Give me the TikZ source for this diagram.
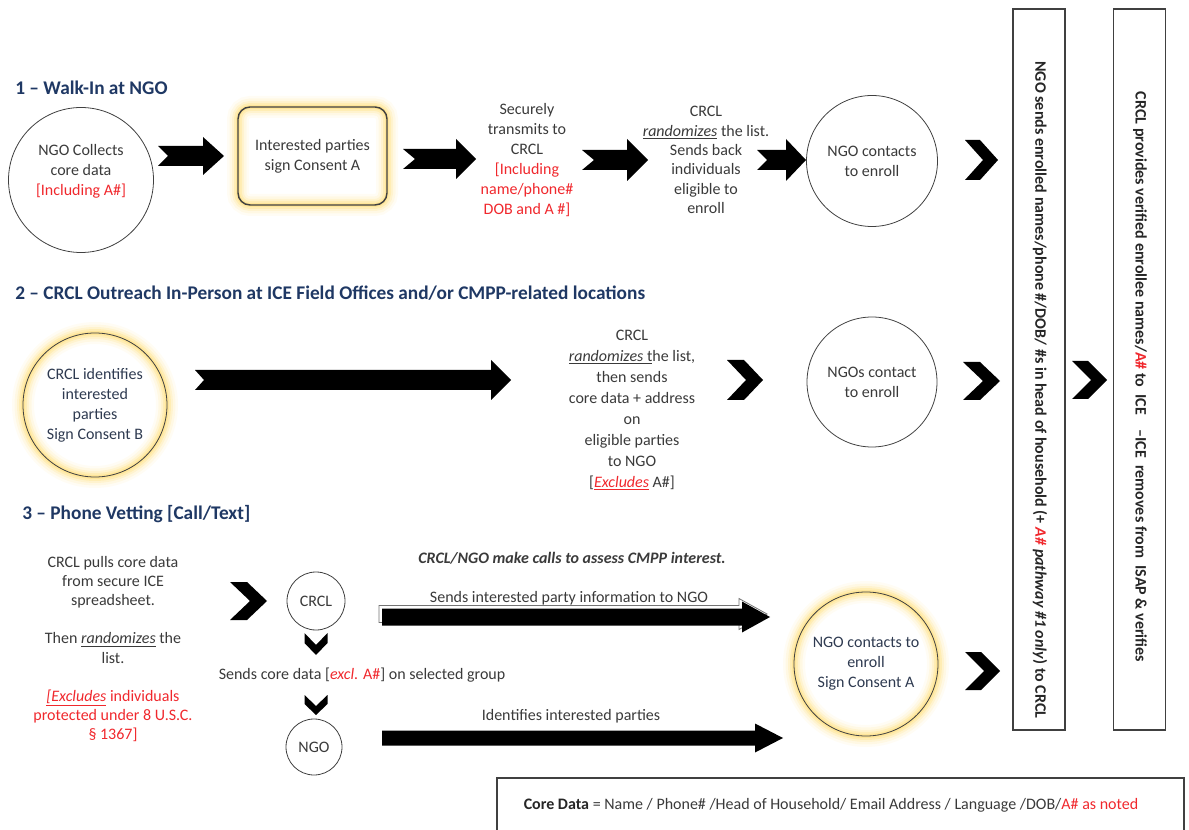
\documentclass[tikz,border=0pt]{standalone}
\usepackage{fontspec}
\setmainfont{Carlito}
\usetikzlibrary{calc}
\definecolor{navy}{HTML}{1F3864}
\definecolor{txt}{HTML}{3A3A3A}
\definecolor{red1}{HTML}{F0282D}
\definecolor{glowc}{HTML}{FFDC70}
\definecolor{gtxt}{HTML}{2E3A50}
\definecolor{edge}{HTML}{404040}
\newcommand\glowit[1]{%
  \foreach \w/\o in {22/0.08,17/0.12,12/0.18,8/0.28,4/0.4}{\draw[glowc, line width=\w*0.75pt, opacity=\o] #1;}}
\tikzset{
  lbl/.style={font=\fontsize{12}{15}\selectfont, text=txt, align=center, inner sep=0pt},
  glbl/.style={lbl, text=gtxt},
  ttl/.style={font=\fontsize{14.5}{16}\selectfont\bfseries, text=navy, anchor=west, inner sep=0pt},
  circ/.style={circle, draw=edge, line width=0.6pt, inner sep=0pt, minimum size=#1*0.75pt},
  vbox/.style={draw=edge, line width=0.9pt, minimum width=52*0.75pt, minimum height=721*0.75pt, inner sep=0pt},
  vtxt/.style={rotate=-90, font=\fontsize{12}{14}\selectfont\bfseries, text=black!85, inner sep=0pt},
  pics/barrow/.style n args={5}{code={\fill[black] (0,-#2) -- (#1-#4,-#2) -- (#1-#4,-#3) -- (#1,0) -- (#1-#4,#3) -- (#1-#4,#2) -- (0,#2) -- (#5,0) -- cycle;}},
  pics/barrowline/.style n args={5}{code={\draw[black!55, fill=white, line width=0.6pt] (0,-#2) -- (#1-#4,-#2) -- (#1-#4,-#3) -- (#1,0) -- (#1-#4,#3) -- (#1-#4,#2) -- (0,#2) -- (#5,0) -- cycle;}},
  pics/chev/.style n args={3}{code={\fill[black] (0,-#2) -- (#3,-#2) -- (#1,0) -- (#3,#2) -- (0,#2) -- (#1-#3,0) -- cycle;}},
  pics/chevd/.style n args={3}{code={\fill[black] (-#2,0) -- (-#2,#3) -- (0,#1) -- (#2,#3) -- (#2,0) -- (0,#1-#3) -- cycle;}},
}
\newcommand\ulg[1]{\underline{#1}}
\begin{document}
\begin{tikzpicture}[x=0.75pt, y=-0.75pt]
\useasboundingbox (0,0) rectangle (1189,830);

% ---------- Section 1 ----------
\node[ttl] (t1) at (15,88) {1 – Walk-In at NGO};
\node[circ=145] (c1) at (81,180) {};
\node[lbl] (c1t) at (81,171) {NGO Collects\\core data\\\textcolor{red1}{[Including A\#]}};
\pic at (158,156) {barrow={66}{10}{19}{21}{10}};
\glowit{[rounded corners=9pt] (238,107) rectangle (387,205)}
\node[draw=edge, line width=1.1pt, rounded corners=9pt, minimum width=149*0.75pt, minimum height=98*0.75pt, lbl] (b1) at (312.5,156) {Interested parties\\sign Consent A};
\pic at (403,159) {barrow={73}{10}{20}{20}{12}};
\node[lbl] (s1) at (527,160) {Securely\\transmits to\\CRCL\\\textcolor{red1}{[Including}\\\textcolor{red1}{name/phone\#}\\\textcolor{red1}{DOB and A \#]}};
\pic at (582,160) {barrow={66}{10}{21}{21}{12}};
\node[lbl, font=\fontsize{12}{14.5}\selectfont] (s2) at (706,160) {CRCL\\\ulg{\textit{randomizes}} the list.\\Sends back\\individuals\\eligible to\\enroll};
\pic at (757,160) {barrow={49}{10}{21}{20}{10}};
\node[circ=131, lbl] (c3) at (872,161) {NGO contacts\\to enroll};
\pic at (965,160) {chev={33}{20}{15}};

% ---------- Section 2 ----------
\node[ttl] (t2) at (15,293) {2 – CRCL Outreach In-Person at ICE Field Offices and/or CMPP-related locations};
\glowit{(95,405) circle[radius=72]}
\node[circ=144, glbl] (c2) at (95,405) {CRCL identifies\\interested\\parties\\Sign Consent B};
\pic at (195,380) {barrow={316}{10}{20}{20}{9}};
\node[lbl, font=\fontsize{12}{15.7}\selectfont] (s3) at (632,410) {CRCL\\\ulg{\textit{randomizes} t}he list,\\then sends\\core data + address\\on\\eligible parties\\to NGO\\{[}\textcolor{red1}{\ulg{\textit{Excludes}}} A\#{]}};
\pic at (727,380) {chev={36}{20}{17}};
\node[circ=130, lbl] (c4) at (872,382) {NGOs contact\\to enroll};
\pic at (963,381) {chev={37}{19}{17}};

% ---------- Section 3 ----------
\node[ttl] (t3) at (22,514) {3 – Phone Vetting [Call/Text]};
\node[lbl, font=\fontsize{12}{14.3}\selectfont] (s4) at (113,649) {CRCL pulls core data\\from secure ICE\\spreadsheet.\\[14.3pt]Then \ulg{\textit{randomizes}} the\\list.\\[14.3pt]\textcolor{red1}{\ulg{\textit{[Excludes}} individuals}\\\textcolor{red1}{protected under 8 U.S.C.}\\\textcolor{red1}{§ 1367]}};
\pic at (230,601) {chev={37}{19}{17}};
\node[circ=58, lbl] (crcl) at (316,601) {CRCL};
\pic at (316,633) {chevd={22}{11.5}{10}};
\node[lbl] (s5) at (362,675) {Sends core data [\textcolor{red1}{\textit{excl.} A\#}] on selected group};
\pic at (316,695) {chevd={20}{11.5}{9}};
\node[circ=56, lbl] (ngo) at (314,747) {NGO};
\node[lbl, font=\fontsize{12}{15}\selectfont\bfseries\itshape] (s6) at (572,558) {CRCL/NGO make calls to assess CMPP interest.};
\node[lbl] (s7) at (569,598) {Sends interested party information to NGO};
\pic at (379,614) {barrowline={388}{8.5}{15.5}{28}{0}};
\pic at (382,617) {barrow={388}{8.5}{15.5}{28}{0}};
\node[lbl] (s8) at (571,716) {Identifies interested parties};
\pic at (382,738) {barrow={401}{7.5}{14.5}{28}{0}};
\glowit{(866,664) circle[radius=72]}
\node[circ=144, glbl] (c5) at (866,664) {NGO contacts to\\enroll\\Sign Consent A};
\pic at (965,671) {chev={35}{19}{16}};

% ---------- right boxes ----------
\node[vbox] (va) at (1039,369.5) {};
\node[vtxt] (vat) at (1040,390) {NGO sends enrolled names/phone \#/DOB/ \#s in head of household (+ \textcolor{red1}{\textit{A\#}} \textit{pathway \#1 only}) to CRCL};
\pic at (1072,380) {chev={35}{19}{16}};
\node[vbox] (vb) at (1139.5,369.5) {};
\node[vtxt] (vbt) at (1140,377) {CRCL provides verified enrollee names/\textcolor{red1}{A\#} to\ \ ICE\ \ \ \ –ICE\ \ removes from\ \ ISAP \& verifies};

% ---------- core data ----------
\coordinate (cdl) at (497,834);
\coordinate (cdr) at (1184,834);
\draw[edge, line width=0.9pt] (cdl) |- (1184,778) -- (cdr);
\node[lbl] (cd) at (831,805) {\textbf{\color{black!85}Core Data} = Name / Phone\# /Head of Household/ Email Address / Language /DOB/\textcolor{red1}{A\# as noted}};
\end{tikzpicture}
\end{document}
